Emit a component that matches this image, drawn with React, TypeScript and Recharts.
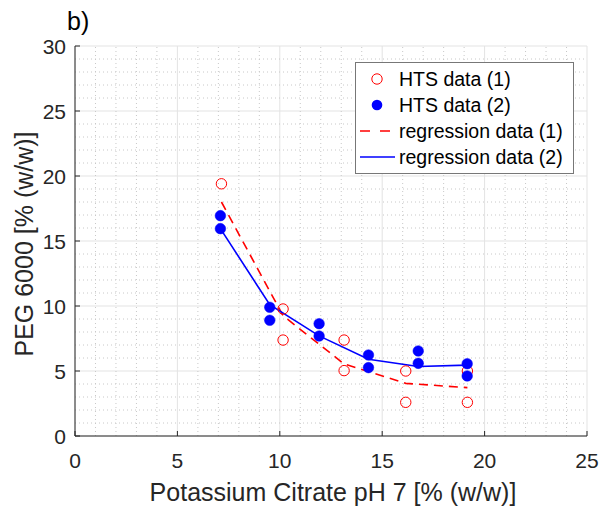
import React from 'react';
import { ComposedChart, XAxis, YAxis, CartesianGrid, Line, Scatter, ReferenceLine } from 'recharts';

const htsData1 = [
  { x: 7.15, y: 19.4 },
  { x: 10.16, y: 9.77 },
  { x: 10.16, y: 7.38 },
  { x: 13.14, y: 7.38 },
  { x: 13.14, y: 5.03 },
  { x: 16.15, y: 5.0 },
  { x: 16.15, y: 2.59 },
  { x: 19.16, y: 5.0 },
  { x: 19.16, y: 2.59 },
];

const htsData2 = [
  { x: 7.1, y: 16.95 },
  { x: 7.1, y: 15.95 },
  { x: 9.51, y: 9.9 },
  { x: 9.51, y: 8.9 },
  { x: 11.92, y: 8.64 },
  { x: 11.92, y: 7.69 },
  { x: 14.33, y: 6.23 },
  { x: 14.33, y: 5.26 },
  { x: 16.76, y: 6.54 },
  { x: 16.76, y: 5.59 },
  { x: 19.15, y: 5.56 },
  { x: 19.15, y: 4.62 },
];

const regression1 = [
  { x: 7.15, y: 18.0 },
  { x: 10.16, y: 9.25 },
  { x: 13.14, y: 5.54 },
  { x: 16.15, y: 4.05 },
  { x: 19.16, y: 3.72 },
];

const regression2 = [
  { x: 7.1, y: 15.95 },
  { x: 9.51, y: 10.1 },
  { x: 11.92, y: 7.7 },
  { x: 14.33, y: 5.9 },
  { x: 16.76, y: 5.35 },
  { x: 19.15, y: 5.45 },
];

const xTicks = [0, 5, 10, 15, 20, 25];
const yTicks = [0, 5, 10, 15, 20, 25, 30];
const xMinor = [1, 2, 3, 4, 6, 7, 8, 9, 11, 12, 13, 14, 16, 17, 18, 19, 21, 22, 23, 24];
const yMinor = [1, 2, 3, 4, 6, 7, 8, 9, 11, 12, 13, 14, 16, 17, 18, 19, 21, 22, 23, 24, 26, 27, 28, 29];

const legendItems = ['HTS data (1)', 'HTS data (2)', 'regression data (1)', 'regression data (2)'];

const AX = '#262626';
const FONT = '"Liberation Sans", Arial, Helvetica, sans-serif';
const TICK_FS = 21;

const BottomTick = (p: any) => (
  <g>
    <line x1={p.x} y1={p.y} x2={p.x} y2={p.y - 5} stroke={AX} strokeWidth={1} />
    <text x={p.x} y={p.y + 32} textAnchor="middle" fill={AX} fontSize={TICK_FS} fontFamily={FONT}>
      {p.payload.value}
    </text>
  </g>
);
const TopTick = (p: any) => (
  <line x1={p.x} y1={p.y} x2={p.x} y2={p.y + 5} stroke={AX} strokeWidth={1} />
);
const LeftTick = (p: any) => (
  <g>
    <line x1={p.x} y1={p.y} x2={p.x + 5} y2={p.y} stroke={AX} strokeWidth={1} />
    <text x={p.x - 9} y={p.y + 7.5} textAnchor="end" fill={AX} fontSize={TICK_FS} fontFamily={FONT}>
      {p.payload.value}
    </text>
  </g>
);
const RightTick = (p: any) => (
  <line x1={p.x} y1={p.y} x2={p.x - 5} y2={p.y} stroke={AX} strokeWidth={1} />
);

const OpenCircle = (p: any) => (
  <circle cx={p.cx} cy={p.cy} r={5.2} fill="none" stroke="#ff0000" strokeWidth={1} />
);
const FilledCircle = (p: any) => (
  <circle cx={p.cx} cy={p.cy} r={5.3} fill="#0000ff" stroke="#0000ff" strokeWidth={0.5} />
);

export default function App() {
  const lx = 355, ly = 62, lw = 218, lh = 111;
  const rowY = [79, 105, 131, 157];
  return (
    <div style={{ position: 'absolute', left: 0, top: 0, width: 601, height: 508, background: '#fff' }}>
      <ComposedChart
        width={601}
        height={508}
        margin={{ top: 46, right: 14, bottom: 0, left: 0 }}
        style={{ position: 'absolute', left: 0, top: 0 }}
      >
        <CartesianGrid stroke="#e3e3e3" strokeWidth={1} />
        {xMinor.map((v) => (
          <ReferenceLine key={'xm' + v} x={v} stroke="#c8c8c8" strokeDasharray="1 3" strokeWidth={1} />
        ))}
        {yMinor.map((v) => (
          <ReferenceLine key={'ym' + v} y={v} stroke="#c8c8c8" strokeDasharray="1 3" strokeWidth={1} />
        ))}
        <XAxis
          dataKey="x"
          type="number"
          domain={[0, 25]}
          ticks={xTicks}
          height={72}
          tickSize={0}
          tickMargin={0}
          tickLine={false}
          axisLine={{ stroke: AX, strokeWidth: 1 }}
          tick={BottomTick}
          allowDataOverflow
        />
        <XAxis
          xAxisId="top"
          orientation="top"
          type="number"
          domain={[0, 25]}
          ticks={xTicks}
          height={0}
          tickSize={0}
          tickMargin={0}
          tickLine={false}
          axisLine={{ stroke: AX, strokeWidth: 1 }}
          tick={TopTick}
        />
        <YAxis
          dataKey="y"
          type="number"
          domain={[0, 30]}
          ticks={yTicks}
          width={75}
          tickSize={0}
          tickMargin={0}
          tickLine={false}
          axisLine={{ stroke: AX, strokeWidth: 1 }}
          tick={LeftTick}
          allowDataOverflow
        />
        <YAxis
          yAxisId="right"
          orientation="right"
          type="number"
          domain={[0, 30]}
          ticks={yTicks}
          width={0}
          tickSize={0}
          tickMargin={0}
          tickLine={false}
          axisLine={{ stroke: AX, strokeWidth: 1 }}
          tick={RightTick}
        />
        <Line
          data={regression1}
          dataKey="y"
          type="linear"
          stroke="#ff0000"
          strokeWidth={1.6}
          strokeDasharray="9 6"
          dot={false}
          activeDot={false}
          isAnimationActive={false}
        />
        <Line
          data={regression2}
          dataKey="y"
          type="linear"
          stroke="#0000ff"
          strokeWidth={1.6}
          dot={false}
          activeDot={false}
          isAnimationActive={false}
        />
        <Scatter data={htsData1} dataKey="y" shape={OpenCircle} isAnimationActive={false} />
        <Scatter data={htsData2} dataKey="y" shape={FilledCircle} isAnimationActive={false} />
      </ComposedChart>
      <svg
        width={601}
        height={508}
        style={{ position: 'absolute', left: 0, top: 0, pointerEvents: 'none' }}
        fontFamily={FONT}
      >
        <text x={67} y={30} fontSize={25} fill="#000">b)</text>
        <text x={333} y={501} fontSize={25} fill={AX} textAnchor="middle">
          Potassium Citrate pH 7 [% (w/w)]
        </text>
        <text
          x={33}
          y={244}
          fontSize={25}
          fill={AX}
          textAnchor="middle"
          transform="rotate(-90 33 244)"
        >
          PEG 6000 [% (w/w)]
        </text>
        <rect x={lx + 0.5} y={ly + 0.5} width={lw} height={lh} fill="#fff" stroke="#777" strokeWidth={1} />
        <circle cx={377} cy={rowY[0]} r={5.2} fill="none" stroke="#ff0000" strokeWidth={1} />
        <circle cx={377} cy={rowY[1]} r={5.3} fill="#0000ff" />
        <line x1={360} y1={rowY[2]} x2={394} y2={rowY[2]} stroke="#ff0000" strokeWidth={1.6} strokeDasharray="10 10" />
        <line x1={360} y1={rowY[3]} x2={395} y2={rowY[3]} stroke="#0000ff" strokeWidth={1.6} />
        {legendItems.map((t, i) => (
          <text key={t} x={399} y={rowY[i] + 7} fontSize={19.5} fill="#000">
            {t}
          </text>
        ))}
      </svg>
    </div>
  );
}
